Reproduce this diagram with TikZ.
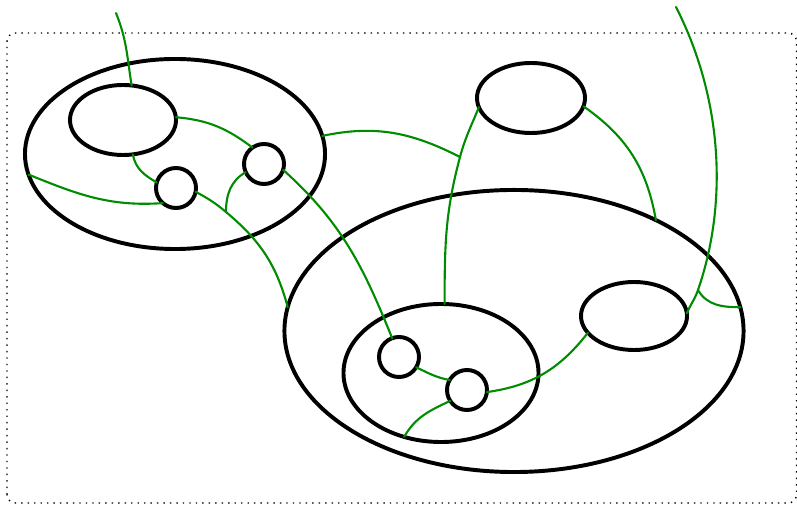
\documentclass[tikz,border=0pt]{standalone}
\usetikzlibrary{shapes.geometric}
\definecolor{wire}{RGB}{0,140,0}
\begin{document}
\begin{tikzpicture}[
            x = 0.025cm, y = 0.025cm, % one unit per pixel
            region/.style = {shape=ellipse, draw=black, line width=2.8pt, inner sep=0pt, outer sep=0pt},
            hole/.style = {shape=circle, draw=black, line width=2.8pt, inner sep=0pt, outer sep=0pt, minimum size=1cm},
            wire/.style = {draw=wire, line width=1.5pt, line cap=round}, % green strands
            frame/.style = {draw=black, line width=1pt, dash pattern=on 1pt off 3.6pt, rounded corners=6pt}
        ]
\useasboundingbox (0,0) rectangle (797,506);
\path[frame] (7,3) rectangle (796.5,473);

% left group
\node[region, minimum width=7.5cm, minimum height=4.75cm] (A) at (175,352) {};
\node[region, minimum width=2.65cm, minimum height=1.75cm] (A1) at (123,386) {};
\node[hole] (A2) at (176,318) {};
\node[hole] (A3) at (264,342) {};

% top one
\node[region, minimum width=2.7cm, minimum height=1.75cm] (B) at (531,408) {};

% right group
\node[region, minimum width=11.475cm, minimum height=7.05cm] (C) at (514,175) {};
\node[region, minimum width=4.875cm, minimum height=3.45cm] (C1) at (441,133) {};
\node[hole] (C2) at (399,149) {};
\node[hole] (C3) at (467,116) {};
\node[region, minimum width=2.65cm, minimum height=1.7cm] (C4) at (634,190) {};

% free ends and junctions
\coordinate (t1) at (116,493);
\coordinate (t2) at (676,499);
\coordinate (j1) at (226,294);
\coordinate (j2) at (460,349);
\coordinate (j3) at (698,216);

 \path [wire] (t1) edge[out=-68, in=99] (A1.76);
 \path [wire] (A1.3) edge[out=-5, in=143] (A3.125);
 \path [wire] (A1.-74) edge[out=-80, in=150] (A2.164);
 \path [wire] (A.188) edge[out=-22, in=184] (A2.229);
 \path [wire] (A3.204) edge[out=210, in=90] (j1);
 \path [wire] (A2.-11) edge[out=-28, in=140] (j1);
 \path [wire] (j1) edge[out=-40, in=105] (C.174);
 \path [wire] (A3.-17) edge[out=-42, in=112] (C2.110);
 \path [wire] (A.7) edge[out=12, in=153] (j2);
 \path [wire] (B.190) edge[out=-112, in=75] (j2);
 \path [wire] (j2) edge[out=-105, in=90] (C1.87);
 \path [wire] (B.-9) edge[out=-35, in=100] (C.38);
 \path [wire] (t2) edge[out=-63, in=71, looseness=0.88] (j3);
 \path [wire] (j3) edge[out=-109, in=67] (C4.3);
 \path [wire] (j3) edge[out=-60, in=180] (C.6);
 \path [wire] (C2.-31) edge[out=-25, in=170] (C3.150);
 \path [wire] (C3.213) edge[out=205, in=60] (C1.240);
 \path [wire] (C3.-6) edge[out=8, in=232] (C4.200);
\end{tikzpicture}
\end{document}
